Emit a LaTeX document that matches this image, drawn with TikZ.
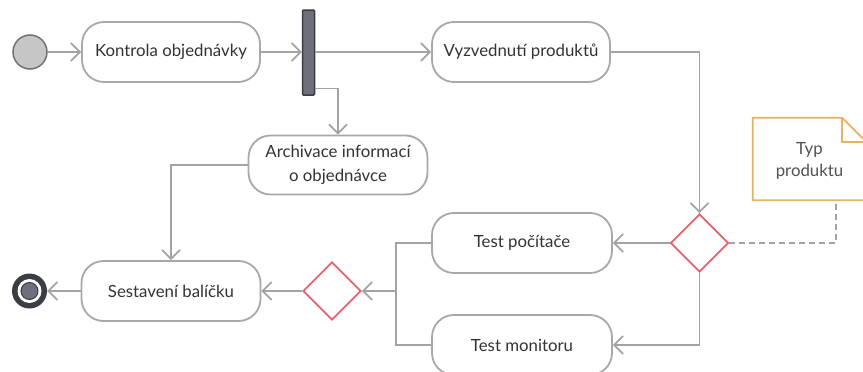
\documentclass[tikz,border=0pt]{standalone}
\usepackage{fontspec}
\setmainfont{Lato}
\usetikzlibrary{arrows.meta, shapes.geometric}

\begin{document}
\begin{tikzpicture}[
    x=1pt, y=-1pt,
    action/.style={
        draw=colBorder, line width=1.8pt, rounded corners=22pt, fill=white,
        minimum width=178pt, minimum height=60pt, align=center,
        text=colText, font=\fontsize{16.8}{23}\selectfont
    },
    decision/.style={
        diamond, draw=colDecision, line width=1.8pt, fill=white,
        minimum width=58pt, minimum height=58pt, inner sep=0pt
    },
    flow/.style={draw=colLine, line width=1.7pt, -{Straight Barb[length=9pt,width=18pt]}},
    link/.style={draw=colLine, line width=1.7pt}
]

% ============================
% COLOR DEFINITIONS
% ============================
\definecolor{colLine}{HTML}{A3A3A3}      % connector grey
\definecolor{colBorder}{HTML}{A8A8A8}    % action border
\definecolor{colText}{HTML}{333333}      % label text
\definecolor{colDecision}{HTML}{E8616E}  % decision red
\definecolor{colNote}{HTML}{E5B461}      % note orange
\definecolor{colBar}{HTML}{6D707B}       % fork bar
\definecolor{colDark}{HTML}{3A3D44}      % dark outline

\useasboundingbox (0,0) rectangle (863,372);

% ============================
% ROW 1 (y=52): start, check, fork, pick-up
% ============================
\node[circle, draw=gray!90!black, fill=gray!45, line width=1.5pt, minimum size=34pt, inner sep=0pt] (start) at (30,52) {};
\node[action] (kontrola) at (171,52) {Kontrola objednávky};
\node[draw=colDark, fill=colBar, line width=1.5pt, rounded corners=1pt, minimum width=12pt, minimum height=85pt, inner sep=0pt] (fork) at (308.5,52.5) {};
\node[action] (vyzved) at (521,52) {Vyzvednutí produktů};

% ============================
% ROW 2 (y=165): archive + note
% ============================
\node[action, minimum width=179pt, minimum height=59pt, font=\fontsize{16.8}{24}\selectfont] (archiv) at (338,165) {Archivace informací\\o objednávce};

% --- Note ---
\node[minimum width=113pt, minimum height=82pt] (note) at (809.5,159) {};
\draw[colNote, line width=1.8pt, fill=white] (note.north west) -- ([xshift=-24pt]note.north east) -- ([yshift=-24pt]note.north east) -- (note.south east) -- (note.south west) -- cycle;
\draw[colNote, line width=1.8pt] ([xshift=-24pt]note.north east) |- ([yshift=-24pt]note.north east);
\node[text=colText!85, align=center, font=\fontsize{16.8}{22}\selectfont] (notetext) at ([yshift=-2pt]note) {Typ\\produktu};

% ============================
% ROW 3 (y=243..345): tests and decisions
% ============================
\node[action, minimum width=180pt] (testpc) at (522,243) {Test počítače};
\node[action, minimum width=180pt] (testmon) at (522,345) {Test monitoru};
\node[decision] (dec1) at (699.5,243) {};
\node[decision] (dec2) at (332,291) {};
\coordinate (join) at (396,291);

% ============================
% ROW 4 (y=291): package + end
% ============================
\node[action, minimum width=179pt] (sestav) at (171,291) {Sestavení balíčku};
\node[circle, fill=colDark, minimum size=35pt, inner sep=0pt] (final) at (29.5,291) {};
\fill[white] (final) circle (12);
\filldraw[fill=colBar, draw=colDark, line width=1pt] (final) circle (8.5);

% ============================
% CONNECTORS
% ============================
\draw[flow] (start) -- (kontrola);
\draw[flow] (kontrola.east) -- (fork.west |- kontrola.east);
\draw[flow] (fork.east |- vyzved.west) -- (vyzved.west);
\draw[flow] ([yshift=-36pt]fork.east) -| (archiv.north);
\draw[flow] (archiv.west) -| (sestav.north);
\draw[flow] (vyzved.east) -| (dec1.north);
\draw[flow] (dec1.west) -- (testpc.east);
\draw[flow] (dec1.south) |- (testmon.east);
\draw[link] (testpc.west) -| (join) |- (testmon.west);
\draw[flow] (join) -- (dec2.east);
\draw[flow] (dec2.west) -- (sestav.east);
\draw[flow] (sestav.west) -- (final);
\draw[colLine, line width=1.7pt, dash pattern=on 6pt off 4pt] (dec1.east) -| ([xshift=26.5pt]note.south);

\end{tikzpicture}
\end{document}
